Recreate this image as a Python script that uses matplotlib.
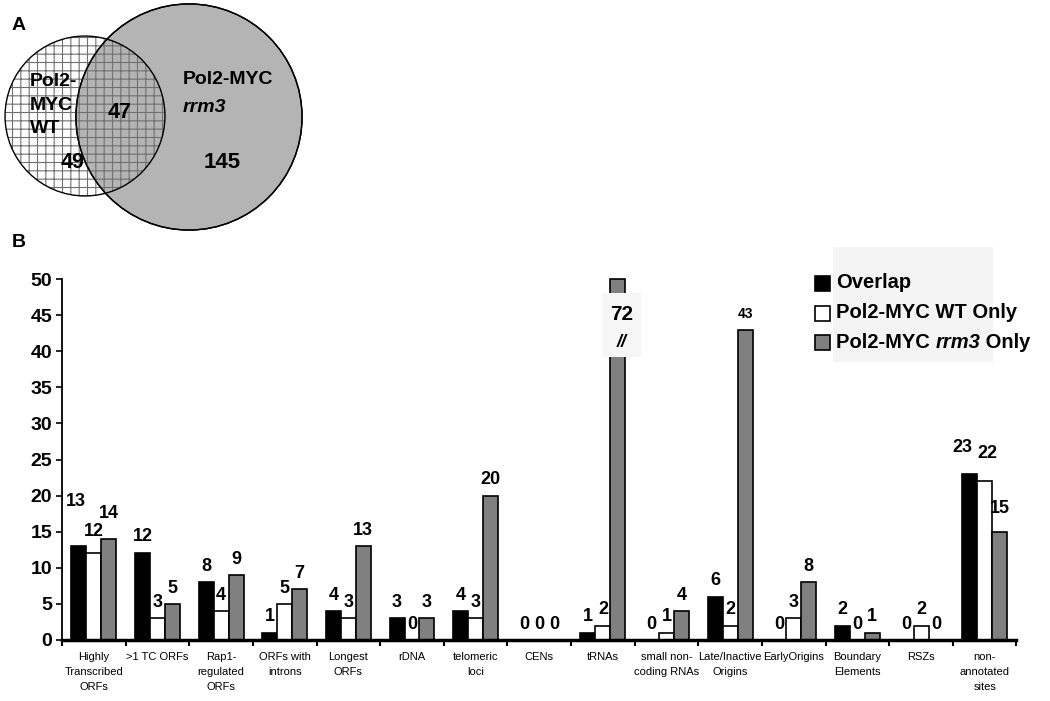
import numpy as np
import matplotlib
matplotlib.use("Agg")
import matplotlib.pyplot as plt
from matplotlib.patches import Circle, Rectangle
from matplotlib.text import Annotation

plt.rcParams['font.family'] = ['Liberation Sans', 'DejaVu Sans']
plt.rcParams['hatch.linewidth'] = 0.8

# ---- data ----
categories = ["Highly\nTranscribed\nORFs", ">1 TC ORFs", "Rap1-\nregulated\nORFs",
              "ORFs with\nintrons", "Longest\nORFs", "rDNA", "telomeric\nloci", "CENs",
              "tRNAs", "small non-\ncoding RNAs", "Late/Inactive\nOrigins", "EarlyOrigins",
              "Boundary\nElements", "RSZs", "non-\nannotated\nsites"]
overlap = [13, 12, 8, 1, 4, 3, 4, 0, 1, 0, 6, 0, 2, 0, 23]
wt_only = [12, 3, 4, 5, 3, 0, 3, 0, 2, 1, 2, 3, 0, 2, 22]
rrm3_only = [14, 5, 9, 7, 13, 3, 20, 0, 72, 4, 43, 8, 1, 0, 15]
series = [overlap, wt_only, rrm3_only]
series_names = ["Overlap", "Pol2-MYC WT Only", "Pol2-MYC rrm3 Only"]

# venn counts
venn_wt_only = 49
venn_both = 47
venn_rrm3_only = 145

# labels that the original places higher / sideways: (category, series) -> (dx, dy)
label_nudge = {(0, 0): (-0.05, 4.0), (0, 1): (0, 0.8), (0, 2): (0, 1.3),
               (1, 0): (0, 0.2), (14, 0): (-0.12, 1.5), (14, 1): (0.05, 1.6),
               (14, 2): (0, 1.0)}

colors = ["black", "white", "#808080"]
W, H = 1050, 701
ymax = 50

fig = plt.figure(figsize=(W / 100, H / 100), dpi=100)

# ---- panel B: bar chart ----
ax = fig.add_axes([62 / W, 1 - 640 / H, 954.5 / W, 361 / H])
ax.patch.set_visible(False)
x = np.arange(len(categories))
bw = 0.235
for i, (vals, c) in enumerate(zip(series, colors)):
    xs = x + (i - 1) * bw
    ax.bar(xs, np.minimum(vals, ymax), width=bw, color=c, edgecolor="black",
           linewidth=1.2, clip_on=False, zorder=2)
    for j, v in enumerate(vals):
        if v > ymax:
            # broken bar: light box with value and break mark
            ax.add_patch(Rectangle((xs[j] - 0.25, 39.2), 0.62, 8.9, facecolor="#f6f6f6",
                                   edgecolor="none", zorder=3))
            ax.text(xs[j] + 0.06, 45.1, str(v), ha="center", va="center",
                    fontsize=15, fontweight="bold", zorder=4)
            ax.text(xs[j] + 0.06, 41.2, "//", ha="center", va="center",
                    fontsize=13, fontweight="bold", style="italic", zorder=4)
            continue
        dx, dy = label_nudge.get((j, i), (0, 0))
        fs = 10 if v > 40 else 13
        ax.text(xs[j] + dx, v + 2.2 + dy, str(v), ha="center", va="center",
                fontsize=fs, fontweight="bold", zorder=4)

ax.set_xlim(-0.5, len(categories) - 0.5)
ax.set_ylim(0, ymax)
ax.set_yticks(np.arange(0, ymax + 1, 5))
ax.set_xticks(x)
ax.set_xticklabels(categories, fontsize=8, linespacing=1.6)
ax.set_xticks(np.arange(-0.5, len(categories)), minor=True)
ax.tick_params(axis="x", which="major", length=0, pad=9)
ax.tick_params(axis="x", which="minor", length=4, width=1.5, direction="out")
ax.tick_params(axis="y", length=4, width=1.2, pad=3, labelsize=14)
for lbl in ax.get_yticklabels():
    lbl.set_fontweight("bold")
ax.spines["top"].set_visible(False)
ax.spines["right"].set_visible(False)
ax.spines["left"].set_linewidth(1.3)
ax.spines["bottom"].set_linewidth(2.5)
ax.spines["bottom"].set_zorder(5)

# ---- legend (drawn by hand so rrm3 can be italic) ----
fig.patches.append(Rectangle((833 / W, 1 - 362 / H), 160 / W, 115 / H,
                             transform=fig.transFigure, facecolor="#f4f4f4",
                             edgecolor="none", zorder=-1))
rows_y = [283, 313, 342]
lfs = 14.5
for name, c, ry in zip(series_names, colors, rows_y):
    fig.patches.append(Rectangle((815 / W, 1 - (ry + 7.5) / H), 15 / W, 15 / H,
                                 transform=fig.transFigure, facecolor=c,
                                 edgecolor="black", linewidth=1.2, zorder=2))
    if "rrm3" in name:
        t1 = fig.text(836 / W, 1 - ry / H, "Pol2-MYC ", fontsize=lfs,
                      fontweight="bold", va="center")
        t2 = Annotation("rrm3", xy=(1, 0), xycoords=t1, fontsize=lfs,
                        fontweight="bold", style="italic", va="bottom")
        fig.add_artist(t2)
        t3 = Annotation(" Only", xy=(1, 0), xycoords=t2, fontsize=lfs,
                        fontweight="bold", va="bottom")
        fig.add_artist(t3)
    else:
        fig.text(836 / W, 1 - ry / H, name, fontsize=lfs, fontweight="bold", va="center")

# ---- panel A: venn ----
va = fig.add_axes([0, 1 - 250 / H, 320 / W, 250 / H])
va.set_xlim(0, 320)
va.set_ylim(250, 0)
va.axis("off")
k = 8.16
r_wt = k * np.sqrt(venn_wt_only + venn_both)
r_rr = k * np.sqrt(venn_rrm3_only + venn_both)
c_wt = (85, 116)
c_rr = (189, 117)
va.add_patch(Circle(c_wt, r_wt, facecolor="white", edgecolor="none", zorder=1))
va.add_patch(Circle(c_rr, r_rr, facecolor="#b4b4b4", edgecolor="black", linewidth=1, zorder=2))
va.add_patch(Circle(c_wt, r_wt, facecolor="none", edgecolor="#707070", linewidth=0,
                    hatch="++", zorder=3))
va.add_patch(Circle(c_wt, r_wt, facecolor="none", edgecolor="black", linewidth=1, zorder=4))
va.add_patch(Circle(c_rr, r_rr, facecolor="none", edgecolor="black", linewidth=1, zorder=4))

va.text(30, 105, "Pol2-\nMYC\nWT", fontsize=14, fontweight="bold", ha="left",
        va="center", linespacing=1.5, zorder=5)
va.text(120, 112, str(venn_both), fontsize=15.5, fontweight="bold", ha="center",
        va="center", zorder=5)
va.text(73, 162, str(venn_wt_only), fontsize=15.5, fontweight="bold", ha="center",
        va="center", zorder=5)
va.text(222, 163, str(venn_rrm3_only), fontsize=16, fontweight="bold", ha="center",
        va="center", zorder=5)
va.text(183, 80, "Pol2-MYC", fontsize=14, fontweight="bold", ha="left", va="center", zorder=5)
va.text(183, 107, "rrm3", fontsize=14, fontweight="bold", style="italic", ha="left",
        va="center", zorder=5)

fig.text(12 / W, 1 - 25 / H, "A", fontsize=14, fontweight="bold", va="center")
fig.text(12 / W, 1 - 242 / H, "B", fontsize=14, fontweight="bold", va="center")

fig.savefig("out.png", dpi=100)
